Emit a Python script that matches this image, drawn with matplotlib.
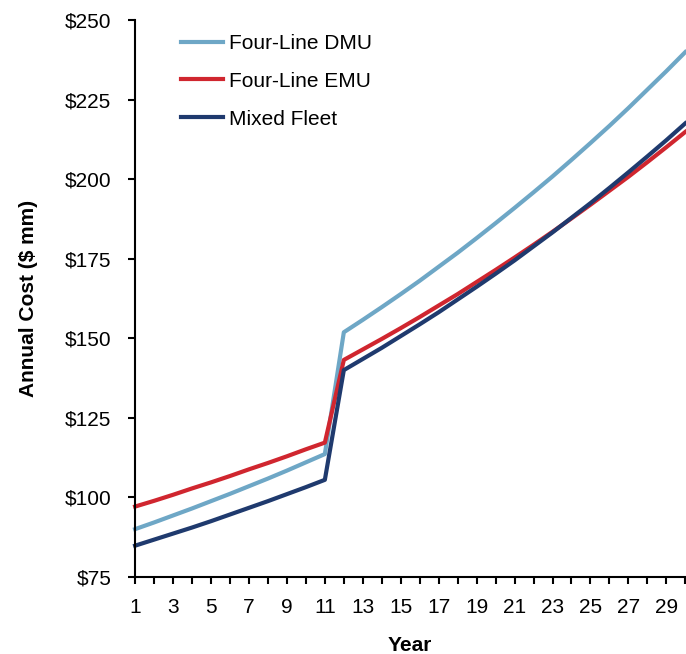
import matplotlib.pyplot as plt
from matplotlib.ticker import MultipleLocator, FuncFormatter

plt.rcParams['font.family'] = ['Liberation Sans', 'DejaVu Sans']

years = list(range(1, 31))

dmu = [90.0, 92.1, 94.3, 96.5, 98.8, 101.1, 103.5, 105.9, 108.4, 111.0, 113.6,
       151.9, 155.8, 159.8, 163.9, 168.1, 172.5, 176.9, 181.5, 186.2, 191.0,
       195.9, 200.9, 206.1, 211.4, 216.8, 222.4, 228.2, 234.0, 240.0]
emu = [97.1, 98.9, 100.8, 102.8, 104.7, 106.7, 108.8, 110.8, 112.9, 115.1, 117.2,
       143.2, 146.5, 149.8, 153.2, 156.7, 160.3, 163.9, 167.7, 171.5, 175.4,
       179.4, 183.5, 187.7, 192.0, 196.4, 200.8, 205.4, 210.1, 214.9]
mixed = [84.8, 86.7, 88.6, 90.5, 92.5, 94.6, 96.7, 98.8, 101.0, 103.2, 105.5,
         140.0, 143.5, 147.0, 150.7, 154.4, 158.2, 162.2, 166.2, 170.3, 174.5,
         178.9, 183.3, 187.9, 192.5, 197.3, 202.2, 207.2, 212.3, 217.6]

fig = plt.figure(figsize=(6.86, 6.54), dpi=100)
ax = fig.add_axes([0.197, 0.118, 0.802, 0.851])

ax.plot(years, dmu, color='#6ea7c6', lw=3, label='Four-Line DMU', clip_on=False)
ax.plot(years, emu, color='#d0262f', lw=3, label='Four-Line EMU', clip_on=False)
ax.plot(years, mixed, color='#1f3a6e', lw=3, label='Mixed Fleet', clip_on=False)

ax.set_xlim(1, 30)
ax.set_ylim(75, 250)
ax.yaxis.set_major_locator(MultipleLocator(25))
ax.yaxis.set_major_formatter(FuncFormatter(lambda v, p: '${:.0f}'.format(v)))
ax.set_xticks(years)
ax.set_xticklabels([str(y) if y % 2 == 1 else '' for y in years])

for s in ['top', 'right']:
    ax.spines[s].set_visible(False)
for s in ['left', 'bottom']:
    ax.spines[s].set_linewidth(1.5)
ax.tick_params(axis='both', direction='out', length=5, width=1.5, labelsize=15)
ax.tick_params(axis='x', pad=10)
ax.tick_params(axis='y', pad=12)

ax.set_ylabel('Annual Cost ($ mm)', fontsize=15, fontweight='bold', labelpad=19)
ax.set_xlabel('Year', fontsize=15, fontweight='bold', labelpad=14)

ax.legend(loc='upper left', bbox_to_anchor=(0.05, 1.009), frameon=False, fontsize=15,
          handlelength=2.0, handletextpad=0.3, labelspacing=0.9)

fig.savefig('out.png', dpi=100)
